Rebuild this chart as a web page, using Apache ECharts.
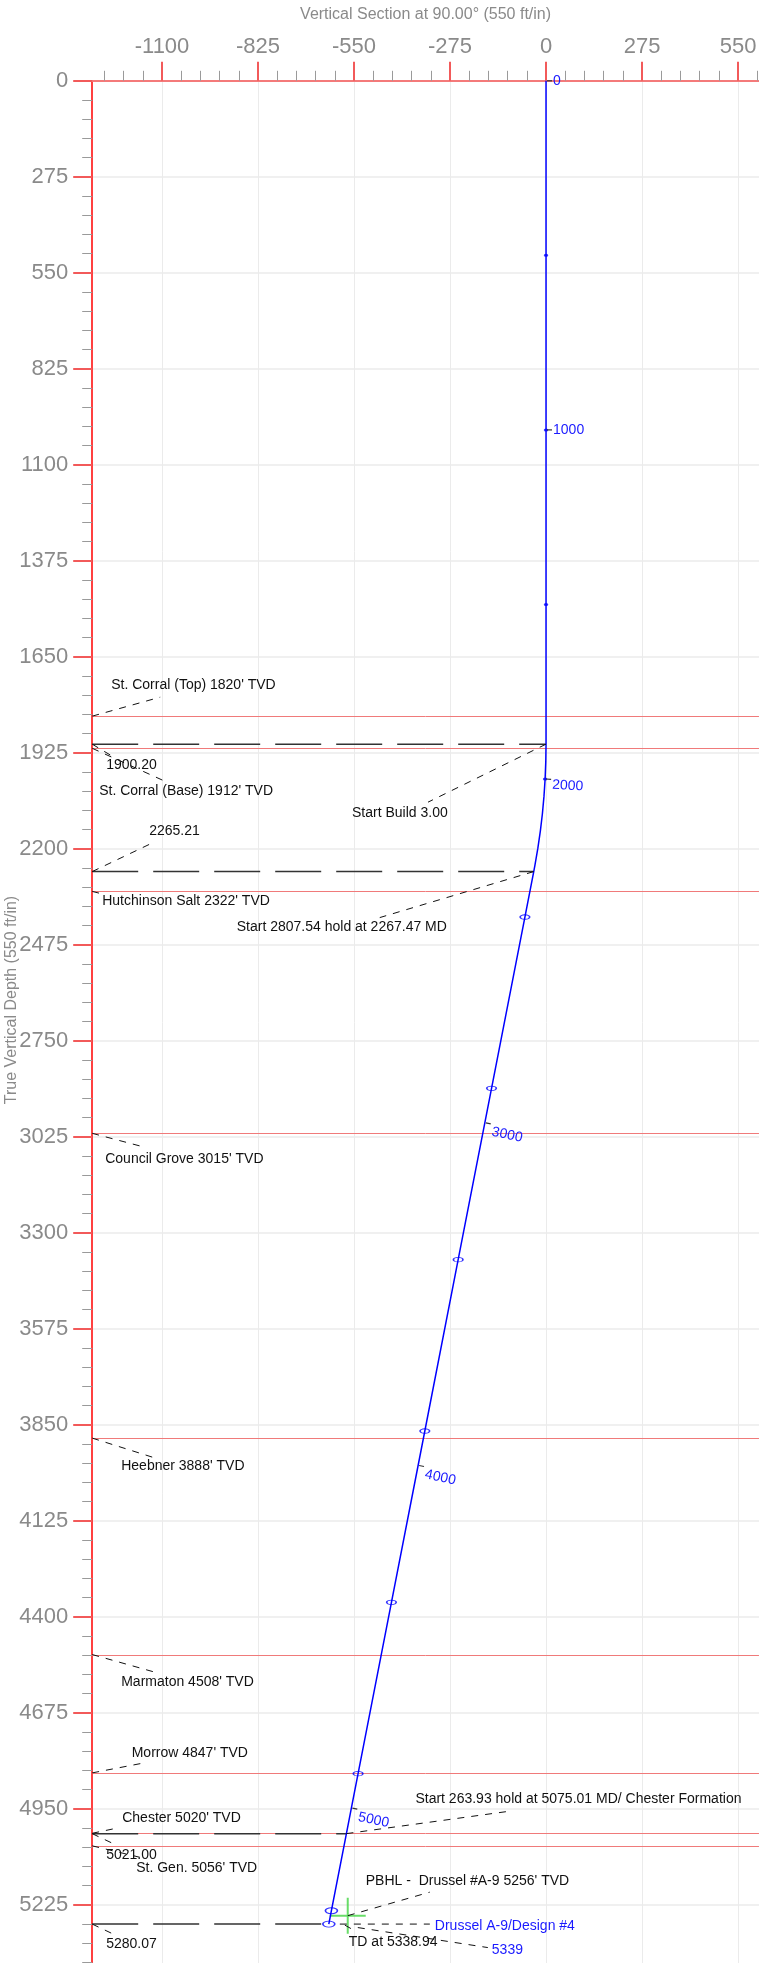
<!DOCTYPE html>
<html>
<head>
<meta charset="utf-8">
<script src="https://cdn.jsdelivr.net/npm/echarts@6/dist/echarts.min.js"></script>
<style>
  html, body { margin: 0; padding: 0; background: #fff; }
  #chart { width: 759px; height: 1963px; }
</style>
</head>
<body>
<div id="chart"></div>
<script>
// ---- Well path survey stations: measured depth, vertical section (ft), true vertical depth (ft)
const stationMD  = [0, 500, 1000, 1500, 1900.2, 1950, 2000, 2050, 2100, 2150, 2200, 2250, 2267.47,
                    2400, 2900, 3000, 3400, 3900, 4000, 4400, 4900, 5000, 5075.01, 5300, 5338.94];
const stationVS  = [0, 0, 0, 0, 0, -0.7, -2.6, -5.9, -10.4, -16.3, -23.5, -32.0, -35.2,
                    -60.5, -156.1, -175.2, -251.7, -347.2, -366.3, -442.8, -538.4, -557.5, -571.8, -614.8, -622.2];
const stationTVD = [0, 500, 1000, 1500, 1900.2, 1950.2, 1999.9, 2049.8, 2099.6, 2149.3, 2198.8, 2248.1, 2265.2,
                    2395.4, 2886.2, 2984.3, 3376.9, 3867.7, 3965.8, 4358.5, 4849.3, 4947.4, 5021.0, 5241.8, 5280.07];

// MD stations shown as dots / ellipses, and the MD depth labels along the path
const dotMD      = [500, 1000, 1500, 2000];
const ellipseMD  = [2400, 2900, 3400, 3900, 4400, 4900, 5300, 5338.94];
const mdLabelMD  = [0, 1000, 2000, 3000, 4000, 5000];
const mdLabelInc = [0, 0, 3, 12, 12, 12];

// Formation tops (TVD, ft)
const formationNames = ['St. Corral (Top)', 'St. Corral (Base)', 'Hutchinson Salt', 'Council Grove',
                        'Heebner', 'Marmaton', 'Morrow', 'Chester', 'St. Gen.'];
const formationTVD   = [1820, 1912, 2322, 3015, 3888, 4508, 4847, 5020, 5056];

// Plan key points: kick-off, end of build, start of final hold, TD
const keyTVD = [1900.20, 2265.21, 5021.00, 5280.07];
const keyVS  = [0, -35.2, -571.8, -622.2];
const buildRate   = 3.00;
const holdStartMD = [2267.47, 5075.01];
const tdMD        = 5338.94;

// Target (PBHL)
const targetName = 'PBHL -  Drussel #A-9';
const targetVS   = -568;
const targetTVD  = 5256;
const wellName   = 'Drussel A-9/Design #4';

// Axis ticks
const xMajorTicks = [-1100, -825, -550, -275, 0, 275, 550];

// ---- Layout
const S = 0.3491;                 // px per ft (550 ft/in on both axes)
const X_MIN = -1300, X_MAX = 610;
const Y_MIN = 0, Y_MAX = 5500;
const GRID_LEFT = 92.2, GRID_TOP = 80.8;
const FONT = '"Liberation Sans", Arial, Helvetica, sans-serif';
const AXIS_GREY = '#8a8a8a';
const BLUE = '#0000ff';
const FORMATION_RED = '#f07a7a';

const xMinorTicks = [];
for (let v = Math.ceil(X_MIN / 55) * 55; v <= X_MAX; v += 55) {
  if (v % 275 !== 0) xMinorTicks.push(v);
}

const pointAtMD = md => {
  const i = stationMD.indexOf(md);
  return [stationVS[i], stationTVD[i]];
};
const plain = v => String(v);

const chart = echarts.init(document.getElementById('chart'), null, { width: 759, height: 1963 });

// long-dash lines from the TVD axis to the well path at the key points
const keySeries = keyTVD.map((t, i) => ({
  type: 'line', z: 3, silent: true, showSymbol: false,
  emphasis: { disabled: true },
  data: [[X_MIN, t], [keyVS[i], t]],
  lineStyle: { color: '#333', width: 1.5, type: [46, 15] }
}));

chart.setOption({
  animation: false,
  backgroundColor: '#fff',
  textStyle: { fontFamily: FONT },
  grid: {
    left: GRID_LEFT, top: GRID_TOP,
    width: (X_MAX - X_MIN) * S, height: (Y_MAX - Y_MIN) * S,
    containLabel: false, outerBoundsMode: 'none'
  },
  xAxis: [{
    type: 'value', position: 'top', min: X_MIN, max: X_MAX,
    name: 'Vertical Section at 90.00\u00b0 (550 ft/in)',
    nameLocation: 'middle', nameGap: 58,
    nameTextStyle: { color: AXIS_GREY, fontSize: 16, fontFamily: FONT },
    axisLine: { onZero: false, lineStyle: { color: '#f47a7a', width: 2 } },
    axisTick: { customValues: xMajorTicks, length: 19, lineStyle: { color: '#f25a5a', width: 2 } },
    axisLabel: { customValues: xMajorTicks, formatter: plain, fontSize: 22, color: AXIS_GREY, margin: 23, fontFamily: FONT },
    splitLine: { show: true, lineStyle: { color: '#ebebeb', width: 1 } }
  }, {
    type: 'value', position: 'top', min: X_MIN, max: X_MAX,
    axisLine: { show: false, onZero: false },
    axisTick: { customValues: xMinorTicks, length: 10, lineStyle: { color: '#9a9a9a', width: 1 } },
    axisLabel: { show: false },
    splitLine: { show: false }
  }],
  yAxis: {
    type: 'value', inverse: true, min: Y_MIN, max: Y_MAX, interval: 275,
    axisLine: { onZero: false, lineStyle: { color: '#ff0000', width: 1.5 } },
    axisTick: { length: 19, lineStyle: { color: '#f25a5a', width: 2 } },
    minorTick: { show: true, splitNumber: 5, length: 10, lineStyle: { color: '#9a9a9a', width: 1 } },
    axisLabel: { formatter: plain, fontSize: 22, color: AXIS_GREY, margin: 24, fontFamily: FONT },
    splitLine: { show: true, lineStyle: { color: '#ebebeb', width: 1.5 } }
  },
  series: keySeries.concat([
    {
      // well path
      type: 'line', z: 5, showSymbol: false, silent: true,
      emphasis: { disabled: true },
      data: stationVS.map((v, i) => [v, stationTVD[i]]),
      lineStyle: { color: BLUE, width: 1.5 }
    },
    {
      type: 'scatter', z: 6, silent: true,
      data: dotMD.map(pointAtMD),
      symbol: 'circle', symbolSize: [4.5, 3],
      itemStyle: { color: BLUE }
    },
    {
      type: 'scatter', z: 6, silent: true,
      data: ellipseMD.map((md, i) => ({
        value: pointAtMD(md),
        symbolSize: i >= ellipseMD.length - 2 ? [12, 6] : [9.5, 4.5]
      })),
      symbol: 'circle',
      itemStyle: { color: 'rgba(0,0,0,0)', borderColor: BLUE, borderWidth: 1.2 }
    },
    {
      // target crosshair
      type: 'scatter', z: 4, silent: true,
      data: [[targetVS, targetTVD]],
      symbol: 'path://M18,0L18,36M0,18L36,18', symbolSize: 36,
      itemStyle: { color: 'rgba(0,0,0,0)', borderColor: '#44d444', borderWidth: 2 }
    }
  ])
});

// ---- Annotations (formation lines, leaders, text), anchored to data through the chart's scales
const px = p => chart.convertToPixel({ xAxisIndex: 0, yAxisIndex: 0 }, p);
const graphics = [];

// formation top lines across the section, snapped to the pixel grid for a crisp 1px stroke
formationTVD.forEach(t => {
  const a = px([X_MIN, t]);
  const b = px([X_MAX, t]);
  const y = Math.round(a[1]) + 0.5;
  graphics.push({
    type: 'line', z: 2, silent: true,
    shape: { x1: a[0], y1: y, x2: b[0], y2: y },
    style: { stroke: FORMATION_RED, lineWidth: 1 }
  });
});

function callout(text, anchor, from, to, at, color) {
  const a = px(anchor);
  graphics.push({
    type: 'line', z: 20, silent: true,
    shape: { x1: a[0] + from[0], y1: a[1] + from[1], x2: a[0] + to[0], y2: a[1] + to[1] },
    style: { stroke: '#111', lineWidth: 1, lineDash: [7, 7] }
  });
  graphics.push({
    type: 'text', z: 21, silent: true, x: a[0] + at[0], y: a[1] + at[1],
    style: { text, fill: color || '#111', font: '14px ' + FONT, align: 'left', verticalAlign: 'middle' }
  });
}

// formation labels: [leader end, text position] relative to the axis anchor
const formationLayout = [
  [[68, -19], [19, -31]],
  [[75, 34], [7, 43]],
  [[8, 2], [10, 9.5]],
  [[53, 14], [13, 25.5]],
  [[60, 19], [29, 28.5]],
  [[64, 18], [29, 28]],
  [[52, -10], [39.5, -20]],
  [[24, -5], [30, -15]],
  [[50, 12], [44, 22]]
];
formationNames.forEach((name, i) => {
  callout(name + ' ' + formationTVD[i] + "' TVD", [X_MIN, formationTVD[i]],
          [0, 0], formationLayout[i][0], formationLayout[i][1]);
});

// key TVD values at the axis
const keyAxisLayout = [
  [[20, 12], [14, 21]],
  [[63, -30], [57, -40]],
  [[21, 10], [14, 22]],
  [[20, 9.5], [14, 20.5]]
];
keyTVD.forEach((t, i) => {
  callout(t.toFixed(2), [X_MIN, t], [0, 0], keyAxisLayout[i][0], keyAxisLayout[i][1]);
});

// plan annotations along the well path
const kop = [keyVS[0], keyTVD[0]];
const eob = [keyVS[1], keyTVD[1]];
const hold2 = [keyVS[2], keyTVD[2]];
const td = [keyVS[3], keyTVD[3]];
callout('Start Build ' + buildRate.toFixed(2), kop, [0, 0], [-118, 58], [-194, 69]);
callout('Start ' + (holdStartMD[1] - holdStartMD[0]).toFixed(2) + ' hold at ' + holdStartMD[0].toFixed(2) + ' MD',
        eob, [0, 0], [-154, 46], [-297, 56]);
callout('Start ' + (tdMD - holdStartMD[1]).toFixed(2) + ' hold at ' + holdStartMD[1].toFixed(2) + ' MD/ Chester Formation',
        hold2, [0, 0], [160, -22], [69, -34]);
callout(targetName + ' ' + targetTVD + "' TVD", [targetVS, targetTVD], [0, 0], [82, -23.5], [18, -34.5]);
callout(wellName, td, [11, 0], [101, 0], [106, 2], '#1a1aff');
callout('TD at ' + tdMD.toFixed(2), td, [16, 1], [23, 5], [20, 18.5]);
callout(Math.round(tdMD).toString(), td, [29, 3.5], [159, 23.5], [163, 26.5], '#1a1aff');

// MD labels with a short tick, turned with the hole angle
mdLabelMD.forEach((md, i) => {
  const a = px(pointAtMD(md));
  const rot = -mdLabelInc[i] * Math.PI / 180;
  const c = Math.cos(rot), s = -Math.sin(rot);
  graphics.push({
    type: 'line', z: 22, silent: true,
    shape: { x1: a[0] + c, y1: a[1] + s, x2: a[0] + 6 * c, y2: a[1] + 6 * s },
    style: { stroke: '#333', lineWidth: 1.2 }
  });
  const dy = i >= 2 ? (i === 2 ? 6 : 9) : 0;
  graphics.push({
    type: 'text', z: 22, silent: true, x: a[0] + 7, y: a[1] + dy, rotation: rot,
    style: { text: String(md), fill: '#1a1aff', font: '14px ' + FONT, align: 'left', verticalAlign: 'middle' }
  });
});

// TVD axis title
graphics.push({
  type: 'text', silent: true, x: 12, y: 1000, rotation: Math.PI / 2,
  style: { text: 'True Vertical Depth (550 ft/in)', fill: AXIS_GREY, font: '16px ' + FONT,
           align: 'center', verticalAlign: 'middle' }
});

chart.setOption({ graphic: graphics });
</script>
</body>
</html>
